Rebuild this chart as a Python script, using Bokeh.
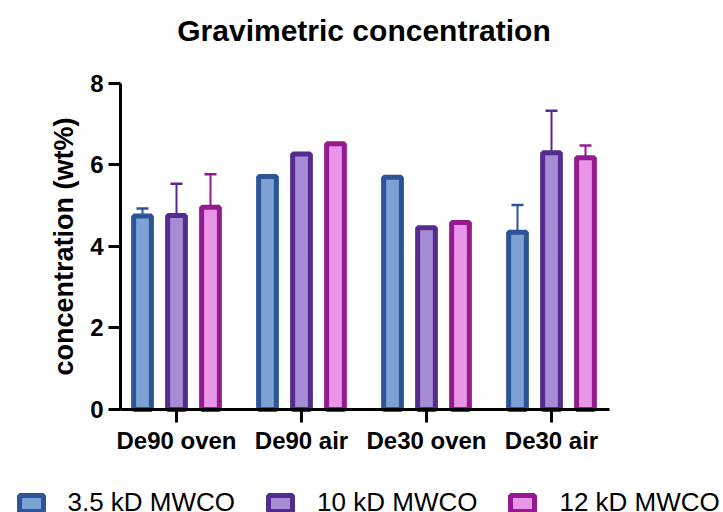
from bokeh.plotting import figure
from bokeh.models import (FactorRange, Range1d, Legend, LegendItem, Whisker,
                          TeeHead, ColumnDataSource, FixedTicker)
from bokeh.transform import dodge
from bokeh.embed import file_html
from bokeh.resources import INLINE

# ---- data ----
categories = ["De90 oven", "De90 air", "De30 oven", "De30 air"]
series = ["3.5 kD MWCO", "10 kD MWCO", "12 kD MWCO"]
mwco_3_5 = [4.75, 5.72, 5.70, 4.35]
mwco_10 = [4.76, 6.27, 4.46, 6.30]
mwco_12 = [4.96, 6.52, 4.59, 6.18]
err_3_5 = [0.18, 0.0, 0.0, 0.67]
err_10 = [0.78, 0.0, 0.0, 1.03]
err_12 = [0.81, 0.0, 0.0, 0.30]
y_ticks = [0, 2, 4, 6, 8]

values = [mwco_3_5, mwco_10, mwco_12]
errors = [err_3_5, err_10, err_12]
fills = ["#7DA1D5", "#A68CD4", "#E996E9"]
lines = ["#2B5594", "#532C8D", "#951A8F"]
offsets = [-0.272, 0.0, 0.272]

FONT = "Liberation Sans"

# The frame spans the whole page below the title so that the legend under the
# x axis is not clipped; both axes are pinned and bounded to the data area.
p = figure(width=723, height=512, output_backend="svg", toolbar_location=None,
           x_range=FactorRange(factors=categories, range_padding=0.876,
                               range_padding_units="absolute"),
           y_range=Range1d(-2.531, 8.663),
           min_border_left=4, min_border_right=0,
           min_border_top=56, min_border_bottom=0)

p.title.text = "Gravimetric concentration"
p.title.align = "center"
p.title.text_font = FONT
p.title.text_font_size = "30px"
p.title.text_font_style = "bold"
p.title.text_color = "black"
p.title.standoff = 20

p.outline_line_color = None
p.xgrid.visible = False
p.ygrid.visible = False

items = []
for name, vals, errs, fc, lc, off in zip(series, values, errors, fills, lines, offsets):
    src = ColumnDataSource(dict(cat=categories, val=vals))
    r = p.vbar(x=dodge("cat", off, range=p.x_range), top="val", bottom=0, width=0.142,
               source=src, fill_color=fc, line_color=lc, line_width=5)
    items.append(LegendItem(label=name, renderers=[r]))
    ec = [c for c, e in zip(categories, errs) if e > 0]
    lo = [v for v, e in zip(vals, errs) if e > 0]
    up = [v + e for v, e in zip(vals, errs) if e > 0]
    esrc = ColumnDataSource(dict(cat=ec, lower=lo, upper=up))
    w = Whisker(base=dodge("cat", off, range=p.x_range), lower="lower", upper="upper",
                source=esrc, line_color=lc, line_width=2,
                upper_head=TeeHead(size=12, line_color=lc, line_width=2.5),
                lower_head=None, level="underlay")
    p.add_layout(w)

# axes
for ax in (p.xaxis[0], p.yaxis[0]):
    ax.axis_line_width = 3
    ax.axis_line_color = "black"
    ax.major_tick_line_width = 3
    ax.major_tick_line_color = "black"
    ax.major_tick_in = 0
    ax.minor_tick_line_color = None
    ax.major_label_text_font = FONT
    ax.major_label_text_font_size = "24px"
    ax.major_label_text_font_style = "bold"
    ax.major_label_text_color = "black"

p.xaxis.fixed_location = 0
p.xaxis.bounds = (0.052, 3.964)
p.xaxis.major_tick_out = 13
p.xaxis.major_label_standoff = 5
p.yaxis.fixed_location = 0.052
p.yaxis.major_tick_out = 12
p.yaxis.major_label_standoff = 5
p.yaxis.ticker = FixedTicker(ticks=y_ticks)
p.yaxis.bounds = (0, 8)
p.yaxis.axis_label = "concentration (wt%)"
p.yaxis.axis_label_text_font = FONT
p.yaxis.axis_label_text_font_size = "27px"
p.yaxis.axis_label_text_font_style = "bold"
p.yaxis.axis_label_text_color = "black"
p.yaxis.axis_label_standoff = 8

legend = Legend(items=items, orientation="horizontal", location=(11.5, -6),
                glyph_width=30, glyph_height=20, label_standoff=22, spacing=30,
                padding=0, margin=0, border_line_color=None,
                background_fill_alpha=0,
                label_text_font=FONT, label_text_font_size="26px",
                label_text_color="black")
p.add_layout(legend, "center")

open("out.html", "w").write(file_html(p, INLINE))
